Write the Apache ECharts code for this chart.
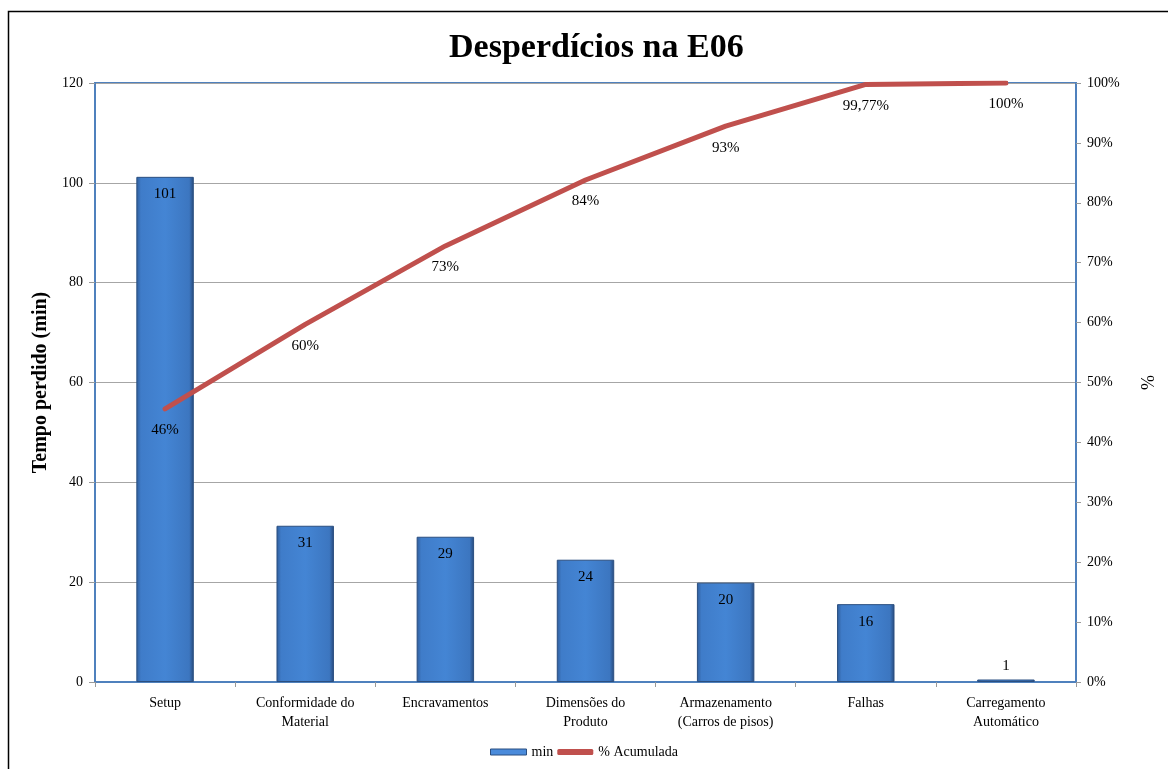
<!DOCTYPE html>
<html>
<head>
<meta charset="utf-8">
<script src="https://cdn.jsdelivr.net/npm/echarts@6/dist/echarts.min.js"></script>
<style>html,body{margin:0;padding:0;background:#fff}#c{width:1168px;height:769px}</style>
</head>
<body>
<div id="c"></div>
<script>
const categories = ['Setup', 'Conformidade do\nMaterial', 'Encravamentos', 'Dimensões do\nProduto', 'Armazenamento\n(Carros de pisos)', 'Falhas', 'Carregamento\nAutomático'];
const minValues = [101.2, 31.3, 29.1, 24.5, 19.9, 15.6, 0.5];
const minLabels = ['101', '31', '29', '24', '20', '16', '1'];
const cumPct = [45.6, 59.7, 72.8, 83.8, 92.8, 99.77, 100];
const cumLabels = ['46%', '60%', '73%', '84%', '93%', '99,77%', '100%'];
const leftTicks = [0, 20, 40, 60, 80, 100, 120];

const FONT = '"Liberation Serif", "Times New Roman", serif';
const chart = echarts.init(document.getElementById('c'));

const barGradient = new echarts.graphic.LinearGradient(0, 0, 1, 0, [
  { offset: 0, color: '#2F5C99' },
  { offset: 0.08, color: '#3F7CC9' },
  { offset: 0.5, color: '#4485D4' },
  { offset: 0.92, color: '#3C76C0' },
  { offset: 1, color: '#27497A' }
]);

chart.setOption({
  animation: false,
  backgroundColor: '#fff',
  textStyle: { fontFamily: FONT },
  graphic: [{
    type: 'rect', silent: true,
    shape: { x: 8.5, y: 11.5, width: 1200, height: 800 },
    style: { fill: 'none', stroke: '#000', lineWidth: 1.5 }
  }],
  title: {
    text: 'Desperdícios na E06', left: 444, top: 26,
    textStyle: { fontFamily: FONT, fontSize: 34, fontWeight: 'bold', color: '#000' }
  },
  legend: {
    bottom: 5, left: 'center', itemGap: 4,
    textStyle: { fontFamily: FONT, fontSize: 14, color: '#000' },
    data: [
      { name: 'min', icon: 'rect', itemStyle: { color: '#4A8BDB', borderColor: '#2B4F80', borderWidth: 1 } },
      { name: '% Acumulada', icon: 'roundRect', itemStyle: { color: '#C0504D' } }
    ],
    itemWidth: 36, itemHeight: 6
  },
  grid: { left: 95, right: 92, top: 83, bottom: 87, show: true, borderColor: '#4F81BD', borderWidth: 2, containLabel: false },
  xAxis: {
    type: 'category', data: categories, boundaryGap: true,
    axisLine: { lineStyle: { color: '#4F81BD', width: 2 } },
    axisTick: { show: true, alignWithLabel: false, length: 5, lineStyle: { color: '#999' } },
    axisLabel: { fontFamily: FONT, fontSize: 14, color: '#000', margin: 12, lineHeight: 19, interval: 0 }
  },
  yAxis: [{
    type: 'value', min: 0, max: 120, interval: 20,
    name: 'Tempo perdido (min)', nameLocation: 'middle', nameGap: 44, nameRotate: 90,
    nameTextStyle: { fontFamily: FONT, fontSize: 20, fontWeight: 'bold', color: '#000' },
    axisLine: { show: true, lineStyle: { color: '#4F81BD', width: 2 } },
    axisTick: { show: true, length: 6, lineStyle: { color: '#999' } },
    axisLabel: { fontFamily: FONT, fontSize: 14, color: '#000', margin: 12,
      formatter: v => leftTicks.includes(v) ? String(v) : '' },
    splitLine: { show: true, lineStyle: { color: '#A6A6A6', width: 1.2 } }
  }, {
    type: 'value', min: 0, max: 100, interval: 10,
    name: '%', nameLocation: 'middle', nameGap: 64, nameRotate: 90,
    nameTextStyle: { fontFamily: FONT, fontSize: 18, color: '#000' },
    axisLine: { show: true, lineStyle: { color: '#4F81BD', width: 2 } },
    axisTick: { show: true, length: 5, lineStyle: { color: '#999' } },
    axisLabel: { fontFamily: FONT, fontSize: 14, color: '#000', margin: 11, formatter: '{value}%' },
    splitLine: { show: false }
  }],
  series: [{
    name: 'min', type: 'bar', yAxisIndex: 0, barWidth: '41%',
    data: minValues.map((v, i) => i === minValues.length - 1
      ? { value: v, label: { position: 'top', distance: 6 } }
      : v),
    itemStyle: { color: barGradient, borderColor: '#2B4F80', borderWidth: 1 },
    label: {
      show: true, position: 'insideTop', distance: 10,
      fontFamily: FONT, fontSize: 15, color: '#000',
      formatter: p => minLabels[p.dataIndex]
    },
    z: 2
  }, {
    name: '% Acumulada', type: 'line', yAxisIndex: 1, data: cumPct,
    symbol: 'circle', symbolSize: 0, showSymbol: true, smooth: false,
    lineStyle: { color: '#C0504D', width: 5, cap: 'round' },
    itemStyle: { color: '#C0504D' },
    label: {
      show: true, position: 'bottom', distance: 14,
      fontFamily: FONT, fontSize: 15, color: '#000',
      formatter: p => cumLabels[p.dataIndex]
    },
    labelLayout: { hideOverlap: false },
    z: 3
  }]
});
</script>
</body>
</html>
